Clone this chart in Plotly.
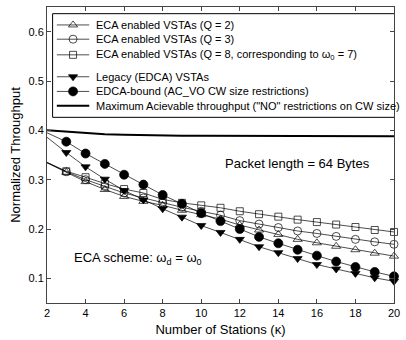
import plotly.graph_objects as go

K = list(range(2, 21))

eca_q2 = [0.334, 0.315, 0.296, 0.280, 0.266, 0.256, 0.248, 0.238, 0.229, 0.220, 0.208,
          0.198, 0.189, 0.179, 0.172, 0.165, 0.158, 0.151, 0.145]
eca_q3 = [0.335, 0.316, 0.300, 0.286, 0.273, 0.263, 0.253, 0.244, 0.236, 0.228, 0.217,
          0.210, 0.203, 0.196, 0.191, 0.185, 0.179, 0.174, 0.169]
eca_q8 = [0.335, 0.317, 0.305, 0.292, 0.281, 0.273, 0.260, 0.253, 0.248, 0.243, 0.236,
          0.230, 0.225, 0.219, 0.214, 0.209, 0.204, 0.198, 0.194]
legacy = [0.386, 0.355, 0.326, 0.301, 0.278, 0.259, 0.241, 0.224, 0.207, 0.193, 0.179,
          0.164, 0.152, 0.140, 0.128, 0.119, 0.110, 0.101, 0.094]
edca_bound = [0.395, 0.377, 0.353, 0.332, 0.310, 0.290, 0.269, 0.251, 0.232, 0.216, 0.200,
              0.184, 0.171, 0.158, 0.146, 0.134, 0.123, 0.113, 0.104]
max_thr = [0.400, 0.397, 0.394, 0.392, 0.391, 0.390, 0.389, 0.389, 0.389, 0.389, 0.389,
           0.389, 0.389, 0.388, 0.388, 0.388, 0.388, 0.388, 0.388]

names = [
    "ECA enabled VSTAs (Q = 2)",
    "ECA enabled VSTAs (Q = 3)",
    "ECA enabled VSTAs (Q = 8, corresponding to ω<sub>0</sub> = 7)",
    "Legacy (EDCA) VSTAs",
    "EDCA-bound (AC_VO CW size restrictions)",
    "Maximum Acievable throughput (\"NO\" restrictions on CW size)",
]

FONT = "Arial, 'Liberation Sans', Helvetica, sans-serif"

# style per series: (data, symbol, marker size, line width)
series = [
    (eca_q2, "triangle-up-open", 8, 0.7),
    (eca_q3, "circle-open", 8, 0.7),
    (eca_q8, "square-open", 7, 0.7),
    (legacy, "triangle-down", 8, 0.7),
    (edca_bound, "circle", 9, 0.7),
]

fig = go.Figure()

for ys, sym, sz, lw in series:
    fig.add_trace(go.Scatter(x=K, y=ys, mode="lines", line=dict(color="black", width=lw),
                             showlegend=False, hoverinfo="skip", cliponaxis=False))
    fig.add_trace(go.Scatter(x=K[1:], y=ys[1:], mode="markers", showlegend=False,
                             marker=dict(symbol=sym, size=sz, color="black",
                                         line=dict(color="black", width=0.7)),
                             cliponaxis=False))

fig.add_trace(go.Scatter(x=K, y=max_thr, mode="lines", showlegend=False,
                         line=dict(color="black", width=2)))

# ---- custom legend drawn in a pixel-coordinate overlay axis ----
PLOT_L, PLOT_R, PLOT_T, PLOT_B = 47, 400, 6, 303
LEG_BOX = (52.7, 12.7, 401, 116.7)
ROW_Y = [24, 38.3, 54, 76, 90.7, 105]
SAMPLE_X = [57, 73.5, 90]
TEXT_X = 95

legend_styles = [(s[1], s[2], s[3]) for s in series] + [(None, 0, 2)]
for (sym, sz, lw), ry, nm in zip(legend_styles, ROW_Y, names):
    if sym is None:
        fig.add_trace(go.Scatter(x=[SAMPLE_X[0], SAMPLE_X[2]], y=[ry, ry], mode="lines",
                                 xaxis="x2", yaxis="y2", showlegend=False, hoverinfo="skip",
                                 line=dict(color="black", width=lw)))
    else:
        fig.add_trace(go.Scatter(x=SAMPLE_X, y=[ry] * 3, mode="lines+markers",
                                 xaxis="x2", yaxis="y2", showlegend=False, hoverinfo="skip",
                                 line=dict(color="black", width=lw),
                                 marker=dict(symbol=sym, size=sz, color="black", opacity=[0, 1, 0],
                                             line=dict(color="black", width=0.7))))
    fig.add_annotation(x=TEXT_X, y=ry, xref="x2", yref="y2", text=nm, showarrow=False,
                       xanchor="left", yanchor="middle",
                       font=dict(size=11, color="black", family=FONT))

fig.add_shape(type="rect", xref="x2", yref="y2", x0=LEG_BOX[0], y0=LEG_BOX[1],
              x1=LEG_BOX[2], y1=LEG_BOX[3], line=dict(color="black", width=1),
              fillcolor="white", layer="below")

fig.add_annotation(x=15.0, y=0.332, text="Packet length = 64 Bytes", showarrow=False,
                   font=dict(size=13, color="black", family=FONT), xanchor="center", yanchor="middle")
fig.add_annotation(x=3.3, y=0.141, text="ECA scheme: ω<sub>d</sub> = ω<sub>0</sub>", showarrow=False,
                   font=dict(size=13, color="black", family=FONT), xanchor="left", yanchor="middle")

axis_common = dict(showline=True, linecolor="#444", linewidth=1, mirror="ticks", ticks="inside",
                   ticklen=4, tickcolor="#444", showgrid=False, zeroline=False,
                   tickfont=dict(size=11, color="black", family=FONT))

fig.update_layout(
    xaxis=dict(range=[2, 20], tickvals=[2, 4, 6, 8, 10, 12, 14, 16, 18, 20],
               ticklabeloverflow="allow",
               title=dict(text="Number of Stations (κ)", font=dict(size=13, color="black", family=FONT),
                          standoff=6), **axis_common),
    yaxis=dict(range=[0.05, 0.65], tickvals=[0.1, 0.2, 0.3, 0.4, 0.5, 0.6],
               ticktext=["0.1", "0.2", "0.3", "0.4", "0.5", "0.6"],
               title=dict(text="Normalized Throughput", font=dict(size=13, color="black", family=FONT),
                          standoff=4), **axis_common),
    xaxis2=dict(overlaying="x", range=[PLOT_L, PLOT_R], visible=False, fixedrange=True),
    yaxis2=dict(overlaying="y", range=[PLOT_B, PLOT_T], visible=False, fixedrange=True),
    width=406, height=340,
    margin=dict(l=47, r=6, t=6, b=37),
    plot_bgcolor="white", paper_bgcolor="white",
    font=dict(family=FONT, color="black"),
    showlegend=False,
)

fig.write_html("out.html")
